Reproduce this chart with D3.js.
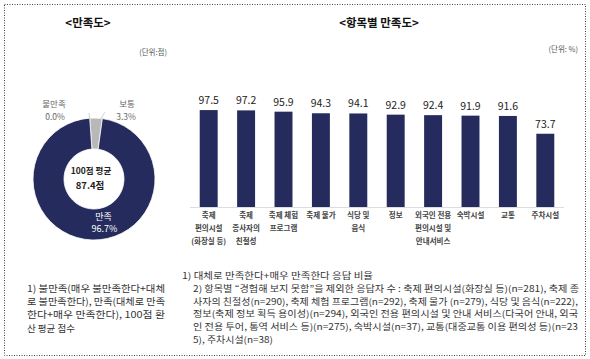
<!DOCTYPE html>
<html>
<head>
<meta charset="utf-8">
<script src="https://cdn.jsdelivr.net/npm/d3@7"></script>
<style>
  body { margin: 0; background: #fff; }
  svg { display: block; font-family: "Noto Sans CJK KR", "Noto Sans", sans-serif; }
</style>
</head>
<body>
<svg id="chart" width="590" height="359"></svg>
<script>
// ---------- data ----------
const donutLabels = ["불만족", "보통", "만족"];
const donutValues = [0.0, 3.3, 96.7];
const donutAvgLabel = "100점 평균";
const donutAvgValue = "87.4점";

const categories = [
  "축제 편의시설 (화장실 등)", "축제 종사자의 친절성", "축제 체험 프로그램", "축제 물가",
  "식당 및 음식", "정보", "외국인 전용 편의시설 및 안내서비스", "숙박시설", "교통", "주차시설"
];
const categoryLines = [
  ["축제", "편의시설", "(화장실 등)"],
  ["축제", "종사자의", "친절성"],
  ["축제 체험", "프로그램"],
  ["축제 물가"],
  ["식당 및", "음식"],
  ["정보"],
  ["외국인 전용", "편의시설 및", "안내서비스"],
  ["숙박시설"],
  ["교통"],
  ["주차시설"]
];
const barValues = [97.5, 97.2, 95.9, 94.3, 94.1, 92.9, 92.4, 91.9, 91.6, 73.7];

const leftNotes = [
  "1) 불만족(매우 불만족한다+대체",
  "로 불만족한다), 만족(대체로 만족",
  "한다+매우 만족한다), 100점 환",
  "산 평균 점수"
];
const rightNotes = [
  "1) 대체로 만족한다+매우 만족한다 응답 비율",
  "2) 항목별 “경험해 보지 못함”을 제외한 응답자 수 : 축제 편의시설(화장실 등)(n=281), 축제 종",
  "사자의 친절성(n=290), 축제 체험 프로그램(n=292), 축제 물가 (n=279), 식당 및 음식(n=222),",
  "정보(축제 정보 획득 용이성)(n=294), 외국인 전용 편의시설 및 안내 서비스(다국어 안내, 외국",
  "인 전용 투어, 통역 서비스 등)(n=275), 숙박시설(n=37), 교통(대중교통 이용 편의성 등)(n=23",
  "5), 주차시설(n=38)"
];

// ---------- drawing ----------
const svg = d3.select("#chart");
const NAVY = "#252b5c";
const GRAY = "#b8b8b8";

svg.append("rect").attr("x", 0).attr("y", 0).attr("width", 590).attr("height", 359).attr("fill", "#fff");
svg.append("rect").attr("x", 4.5).attr("y", 4.5).attr("width", 581).attr("height", 351)
  .attr("fill", "none").attr("stroke", "#444").attr("stroke-width", 1).attr("stroke-dasharray", "1,1.5");

// titles
svg.append("text").attr("x", 88).attr("y", 27).attr("text-anchor", "middle")
  .attr("font-size", 11.5).attr("font-weight", "bold").attr("fill", "#111").text("<만족도>");
svg.append("text").attr("x", 167).attr("y", 55).attr("text-anchor", "end")
  .attr("font-size", 7.5).attr("fill", "#555").text("(단위:점)");
svg.append("text").attr("x", 379).attr("y", 27).attr("text-anchor", "middle")
  .attr("font-size", 11.5).attr("font-weight", "bold").attr("fill", "#111").text("<항목별 만족도>");
svg.append("text").attr("x", 578).attr("y", 52).attr("text-anchor", "end")
  .attr("font-size", 7.5).attr("fill", "#555").text("(단위: %)");

// ---------- donut ----------
const cx = 94, cy = 179, rOuter = 61, rInner = 30;
const startA = -0.07;
const pie = d3.pie().sort(null).value(d => d).startAngle(startA).endAngle(startA + 2 * Math.PI);
const arcs = pie(donutValues);
const arc = d3.arc().innerRadius(rInner).outerRadius(rOuter);
const dg = svg.append("g").attr("transform", `translate(${cx},${cy})`);
dg.selectAll("path").data(arcs).join("path")
  .attr("d", arc)
  .attr("fill", (d, i) => i === 2 ? NAVY : GRAY)
  .attr("stroke", "#fff").attr("stroke-width", 0.8);

// leader lines
const leaders = [
  { a: arcs[0].startAngle, dx: -1, dy: -9 },
  { a: (arcs[1].startAngle + arcs[1].endAngle) / 2 + 0.05, dx: 6, dy: -10 }
];
leaders.forEach(l => {
  const x0 = Math.sin(l.a) * (rOuter - 4), y0 = -Math.cos(l.a) * (rOuter - 4);
  dg.append("line").attr("x1", x0).attr("y1", y0).attr("x2", x0 + l.dx).attr("y2", y0 + l.dy)
    .attr("stroke", "#bbb").attr("stroke-width", 0.7);
});

const lblColor = "#666";
svg.append("text").attr("x", 54).attr("y", 107).attr("text-anchor", "middle")
  .attr("font-size", 8.5).attr("fill", lblColor).text(donutLabels[0]);
svg.append("text").attr("x", 55).attr("y", 120).attr("text-anchor", "middle")
  .attr("font-size", 8.5).attr("fill", lblColor).text(donutValues[0].toFixed(1) + "%");
svg.append("text").attr("x", 127).attr("y", 107).attr("text-anchor", "middle")
  .attr("font-size", 8.5).attr("fill", lblColor).text(donutLabels[1]);
svg.append("text").attr("x", 126).attr("y", 120).attr("text-anchor", "middle")
  .attr("font-size", 8.5).attr("fill", lblColor).text(donutValues[1].toFixed(1) + "%");

svg.append("text").attr("x", 91).attr("y", 174).attr("text-anchor", "middle")
  .attr("font-size", 8.5).attr("font-weight", "bold").attr("fill", "#222").text(donutAvgLabel);
svg.append("text").attr("x", 90).attr("y", 188.5).attr("text-anchor", "middle")
  .attr("font-size", 9.5).attr("font-weight", "bold").attr("fill", "#222").text(donutAvgValue);

svg.append("text").attr("x", 103.5).attr("y", 219.5).attr("text-anchor", "middle")
  .attr("font-size", 9).attr("fill", "#fff").text(donutLabels[2]);
svg.append("text").attr("x", 104.5).attr("y", 232).attr("text-anchor", "middle")
  .attr("font-size", 9).attr("fill", "#fff").text(donutValues[2].toFixed(1) + "%");

// ---------- bars ----------
const x = d3.scaleBand().domain(categories).range([190, 564]).paddingInner(0.52).paddingOuter(0.26);
const y = d3.scaleLinear().domain([0, 100]).range([207, 107.6]);

svg.append("line").attr("x1", 190).attr("x2", 564).attr("y1", y(0) + 0.5).attr("y2", y(0) + 0.5)
  .attr("stroke", "#ddd").attr("stroke-width", 1);

svg.selectAll("rect.bar").data(barValues).join("rect").attr("class", "bar")
  .attr("x", (d, i) => x(categories[i]))
  .attr("width", x.bandwidth())
  .attr("y", d => y(d))
  .attr("height", d => y(0) - y(d))
  .attr("fill", NAVY);

svg.selectAll("text.val").data(barValues).join("text").attr("class", "val")
  .attr("x", (d, i) => x(categories[i]) + x.bandwidth() / 2)
  .attr("y", d => y(d) - 6)
  .attr("text-anchor", "middle")
  .attr("font-size", 10.5).attr("fill", "#222")
  .text(d => d.toFixed(1));

categoryLines.forEach((lines, i) => {
  const t = svg.append("text")
    .attr("x", x(categories[i]) + x.bandwidth() / 2)
    .attr("y", 218)
    .attr("text-anchor", "middle")
    .attr("font-size", 7.5).attr("font-weight", "bold").attr("fill", "#444");
  lines.forEach((ln, j) => {
    t.append("tspan").attr("x", x(categories[i]) + x.bandwidth() / 2)
      .attr("dy", j === 0 ? 0 : 13).text(ln);
  });
});

// ---------- footnotes ----------
const leftWidths = [138, 138, 138, null];
leftNotes.forEach((ln, i) => {
  const t = svg.append("text").attr("x", 27).attr("y", 292 + i * 13.2)
    .attr("font-size", 9.5).attr("fill", "#333").text(ln);
  if (leftWidths[i]) t.attr("textLength", leftWidths[i]).attr("lengthAdjust", "spacingAndGlyphs");
});

const rightX = [182, 193, 193, 193, 193, 193];
const rightW = [191, 386, 385, 385, 385, 80];
rightNotes.forEach((ln, i) => {
  svg.append("text").attr("x", rightX[i]).attr("y", 279 + i * 12.8)
    .attr("font-size", 9).attr("fill", "#333").text(ln)
    .attr("textLength", rightW[i]).attr("lengthAdjust", "spacingAndGlyphs");
});
</script>
</body>
</html>
